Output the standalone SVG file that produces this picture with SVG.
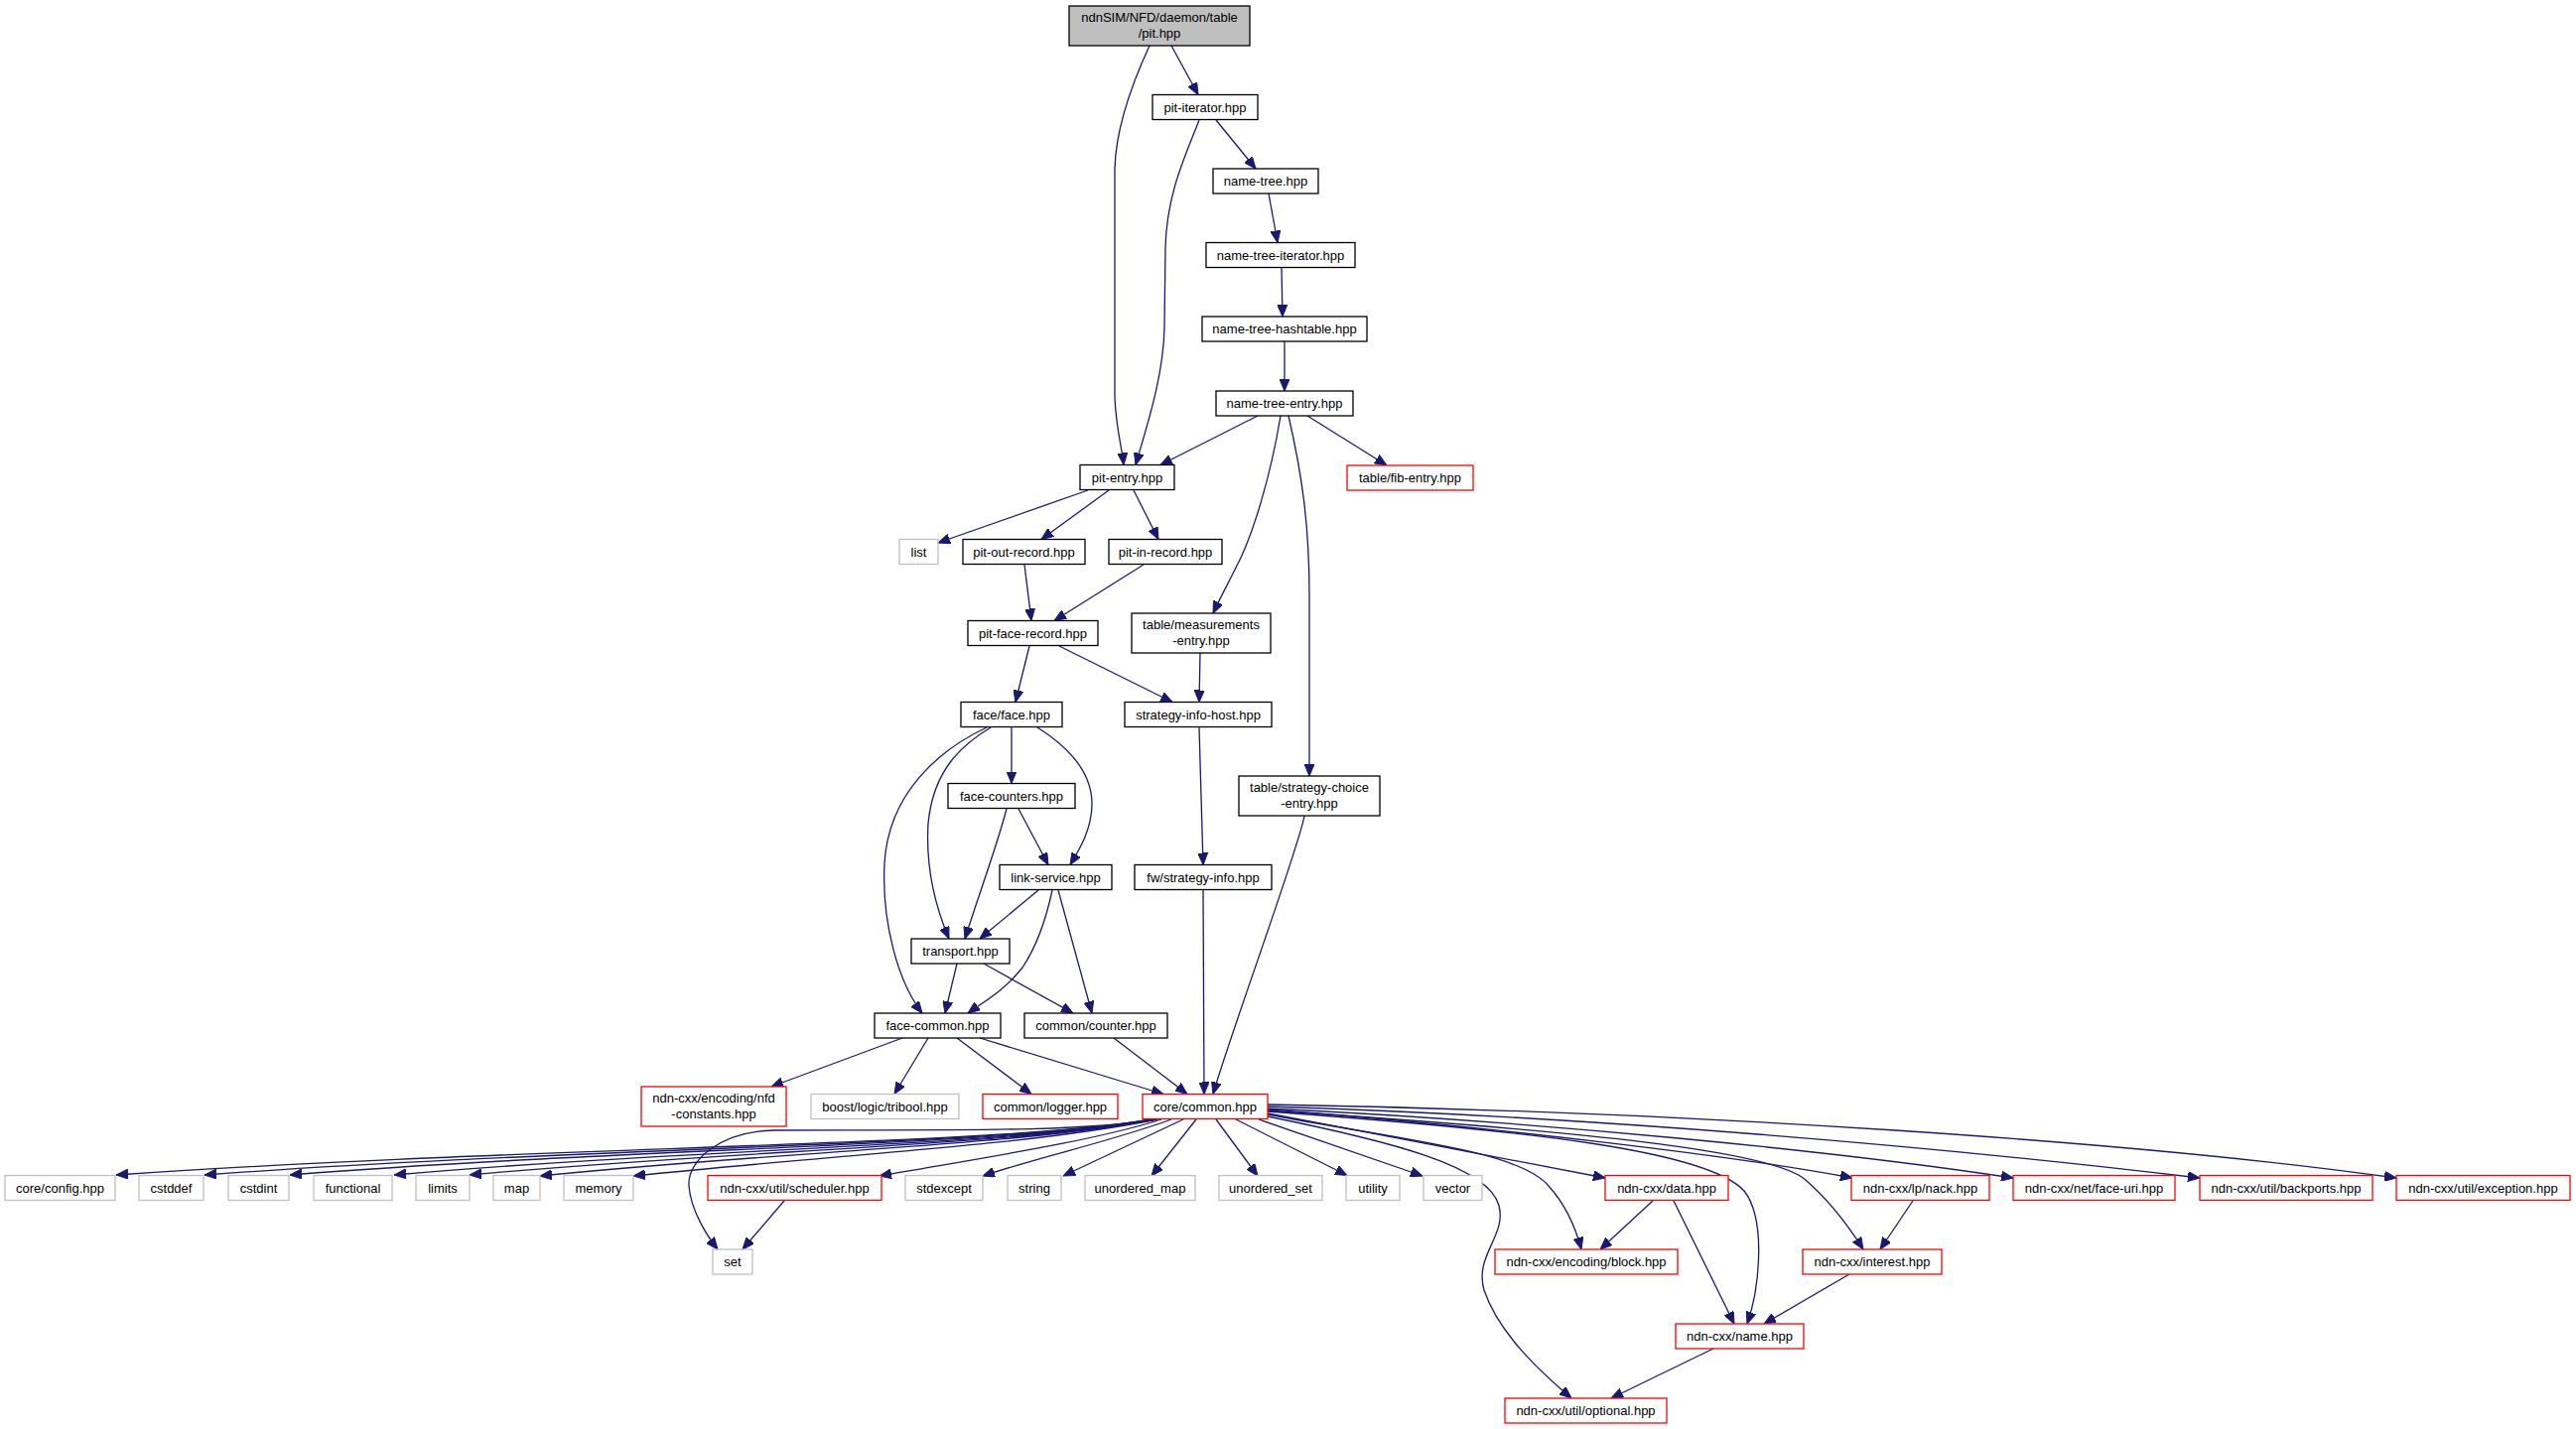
<svg xmlns="http://www.w3.org/2000/svg" width="2595" height="1440" viewBox="0 0 2595 1440">
<defs>
<marker id="a" markerUnits="userSpaceOnUse" viewBox="0 0 12 10" markerWidth="12" markerHeight="10" refX="12" refY="5" orient="auto"><path d="M0,0 L12,5 L0,10 z" fill="#191970" stroke="#191970" stroke-width="1"/></marker>
<style>
.node rect{fill:#fff;stroke:#000;stroke-width:1.3}
.node.g rect{stroke:#bfbfbf}
.node.r rect{stroke:#ff0000}
.node.root rect{fill:#bfbfbf}
text{font-family:"Liberation Sans",Arial,sans-serif;font-size:13px;text-anchor:middle;fill:#000}
#edges path{fill:none;stroke:#191970;stroke-width:1.3;marker-end:url(#a)}
</style>
</defs>
<rect width="2595" height="1440" fill="#fff"/>
<g id="edges">
<path d="M1180,46 L1207,95.5"/>
<path d="M1158,46 C1140,85 1124,130 1123,170 L1123,400 C1124,430 1130,450 1132,468.5"/>
<path d="M1208,121 C1195,155 1175,195 1174,250 L1173,330 C1172,380 1155,430 1144,468.5"/>
<path d="M1225,121 L1265,170"/>
<path d="M1278,195 L1287,244.5"/>
<path d="M1291,270 L1292,319"/>
<path d="M1294,344 L1294,394"/>
<path d="M1267,419 L1169,468.5"/>
<path d="M1317,419 L1397,469"/>
<path d="M1290,419 C1280,480 1262,540 1245,572 C1236,590 1228,605 1222,618"/>
<path d="M1298,419 C1312,480 1319,530 1319,600 L1319,782"/>
<path d="M1096,494 L945,547"/>
<path d="M1117,494 L1049,543.5"/>
<path d="M1142,494 L1167,543.5"/>
<path d="M1032,569 L1039,625.5"/>
<path d="M1152,569 L1062,625.5"/>
<path d="M1037,651 L1023,707.5"/>
<path d="M1067,651 L1181,707.5"/>
<path d="M1209,658 L1208,707.5"/>
<path d="M1208,733 L1212,871.5"/>
<path d="M1019,733 L1019,789.5"/>
<path d="M1045,733 C1080,755 1100,780 1100,810 C1100,835 1088,855 1078,871.5"/>
<path d="M998,733 C970,750 940,775 935,830 C932,880 945,920 956,946"/>
<path d="M994,733 C945,756 895,800 891,870 C888,930 905,990 929,1021"/>
<path d="M1026,815 L1056,871.5"/>
<path d="M1014,815 C1005,850 990,890 972,946"/>
<path d="M1046,897 L987,946"/>
<path d="M1060,897 C1052,935 1040,960 1030,975 C1010,1000 990,1010 975,1021"/>
<path d="M1066,897 L1100,1021"/>
<path d="M964,971 L952,1021"/>
<path d="M991,971 L1081,1021"/>
<path d="M909,1046 L777,1095"/>
<path d="M935,1046 L901,1102.5"/>
<path d="M964,1046 L1039,1102.5"/>
<path d="M987,1046 L1172,1102.5"/>
<path d="M1122,1046 L1196,1102.5"/>
<path d="M1212,897 L1213,1102.5"/>
<path d="M1314,822 C1310,850 1240,1040 1222,1102.5"/>
<path d="M1160,1128 C1010,1155 534,1155 117,1184"/>
<path d="M1161,1128 C1012,1155 580,1156 206,1184"/>
<path d="M1162,1128 C1014,1155 630,1157 292,1184"/>
<path d="M1163,1128 C1016,1155 690,1158 397,1184"/>
<path d="M1164,1128 C1018,1155 740,1159 473,1184"/>
<path d="M1165,1128 C1020,1155 790,1160 544,1185"/>
<path d="M1166,1128 C1030,1155 860,1162 638,1185"/>
<path d="M1158,1128 C1100,1142 900,1138 780,1139 C725,1140 692,1170 694,1195 C696,1220 712,1245 723,1259"/>
<path d="M1170,1128 C1100,1150 1000,1165 886,1185"/>
<path d="M1180,1128 C1120,1150 1050,1165 990,1185"/>
<path d="M1192,1128 L1071,1185"/>
<path d="M1205,1128 L1160,1185"/>
<path d="M1225,1128 L1267,1185"/>
<path d="M1245,1128 L1357,1184.5"/>
<path d="M1268,1128 L1433,1185"/>
<path d="M1277,1122 C1400,1145 1530,1170 1617,1187"/>
<path d="M1277,1123 C1420,1150 1530,1160 1560,1195 C1578,1215 1588,1240 1593,1259"/>
<path d="M1277,1125 C1400,1150 1500,1175 1510,1215 C1518,1245 1485,1265 1495,1300 C1510,1345 1555,1385 1583,1409"/>
<path d="M1277,1120 C1550,1140 1720,1160 1757,1200 C1780,1230 1772,1300 1760,1334"/>
<path d="M1277,1119 C1600,1140 1790,1160 1820,1190 C1845,1212 1865,1240 1877,1259"/>
<path d="M1277,1118 C1500,1135 1750,1165 1866,1187"/>
<path d="M1277,1117 C1550,1130 1850,1160 2028,1187"/>
<path d="M1277,1115 C1600,1125 1950,1155 2216,1187"/>
<path d="M1277,1113 C1700,1120 2150,1150 2414,1187"/>
<path d="M790,1210 L748,1259"/>
<path d="M1665,1210 L1612,1259"/>
<path d="M1686,1210 L1747,1334"/>
<path d="M1927,1210 L1894,1259"/>
<path d="M1863,1284 L1777,1334"/>
<path d="M1726,1359 L1623,1409"/>
</g>
<g id="n_root" class="node root"><rect x="1077" y="6" width="182" height="40"/><text x="1168" y="21.5">ndnSIM/NFD/daemon/table</text><text x="1168" y="37.5">/pit.hpp</text></g>
<g id="n_pit_iterator" class="node"><rect x="1161" y="95.5" width="106" height="25"/><text x="1214" y="112.5">pit-iterator.hpp</text></g>
<g id="n_name_tree" class="node"><rect x="1222" y="170" width="106" height="25"/><text x="1275" y="187">name-tree.hpp</text></g>
<g id="n_name_tree_iterator" class="node"><rect x="1215" y="244.5" width="150" height="25"/><text x="1290" y="261.5">name-tree-iterator.hpp</text></g>
<g id="n_name_tree_hashtable" class="node"><rect x="1211" y="319" width="166" height="25"/><text x="1294" y="336">name-tree-hashtable.hpp</text></g>
<g id="n_name_tree_entry" class="node"><rect x="1225" y="394" width="138" height="25"/><text x="1294" y="411">name-tree-entry.hpp</text></g>
<g id="n_pit_entry" class="node"><rect x="1088" y="468.5" width="95" height="25"/><text x="1135.5" y="485.5">pit-entry.hpp</text></g>
<g id="n_fib_entry" class="node r"><rect x="1357" y="469" width="127" height="25"/><text x="1420.5" y="486">table/fib-entry.hpp</text></g>
<g id="n_list" class="node g"><rect x="906" y="543.5" width="39" height="25"/><text x="925.5" y="560.5">list</text></g>
<g id="n_pit_out_record" class="node"><rect x="970" y="543.5" width="123" height="25"/><text x="1031.5" y="560.5">pit-out-record.hpp</text></g>
<g id="n_pit_in_record" class="node"><rect x="1117" y="543.5" width="114" height="25"/><text x="1174" y="560.5">pit-in-record.hpp</text></g>
<g id="n_pit_face_record" class="node"><rect x="975" y="625.5" width="131" height="25"/><text x="1040.5" y="642.5">pit-face-record.hpp</text></g>
<g id="n_measurements_entry" class="node"><rect x="1140" y="618" width="140" height="40"/><text x="1210" y="633.5">table/measurements</text><text x="1210" y="649.5">-entry.hpp</text></g>
<g id="n_face" class="node"><rect x="968" y="707.5" width="102" height="25"/><text x="1019" y="724.5">face/face.hpp</text></g>
<g id="n_strategy_info_host" class="node"><rect x="1133" y="707.5" width="148" height="25"/><text x="1207" y="724.5">strategy-info-host.hpp</text></g>
<g id="n_face_counters" class="node"><rect x="955" y="789.5" width="128" height="25"/><text x="1019" y="806.5">face-counters.hpp</text></g>
<g id="n_strategy_choice_entry" class="node"><rect x="1248" y="782" width="142" height="40"/><text x="1319" y="797.5">table/strategy-choice</text><text x="1319" y="813.5">-entry.hpp</text></g>
<g id="n_link_service" class="node"><rect x="1007" y="871.5" width="113" height="25"/><text x="1063.5" y="888.5">link-service.hpp</text></g>
<g id="n_strategy_info" class="node"><rect x="1143" y="871.5" width="138" height="25"/><text x="1212" y="888.5">fw/strategy-info.hpp</text></g>
<g id="n_transport" class="node"><rect x="918" y="946" width="99" height="25"/><text x="967.5" y="963">transport.hpp</text></g>
<g id="n_face_common" class="node"><rect x="881" y="1021" width="127" height="25"/><text x="944.5" y="1038">face-common.hpp</text></g>
<g id="n_counter" class="node"><rect x="1032" y="1021" width="144" height="25"/><text x="1104" y="1038">common/counter.hpp</text></g>
<g id="n_nfd_constants" class="node r"><rect x="646" y="1095" width="146" height="40"/><text x="719" y="1110.5">ndn-cxx/encoding/nfd</text><text x="719" y="1126.5">-constants.hpp</text></g>
<g id="n_tribool" class="node g"><rect x="817" y="1102.5" width="149" height="25"/><text x="891.5" y="1119.5">boost/logic/tribool.hpp</text></g>
<g id="n_logger" class="node r"><rect x="990" y="1102.5" width="136" height="25"/><text x="1058" y="1119.5">common/logger.hpp</text></g>
<g id="n_core_common" class="node r"><rect x="1151" y="1102.5" width="126" height="25"/><text x="1214" y="1119.5">core/common.hpp</text></g>
<g id="n_core_config" class="node g"><rect x="5" y="1184.5" width="111" height="25"/><text x="60.5" y="1201.5">core/config.hpp</text></g>
<g id="n_cstddef" class="node g"><rect x="140" y="1184.5" width="65" height="25"/><text x="172.5" y="1201.5">cstddef</text></g>
<g id="n_cstdint" class="node g"><rect x="230" y="1184.5" width="61" height="25"/><text x="260.5" y="1201.5">cstdint</text></g>
<g id="n_functional" class="node g"><rect x="316" y="1184.5" width="79" height="25"/><text x="355.5" y="1201.5">functional</text></g>
<g id="n_limits" class="node g"><rect x="419" y="1184.5" width="54" height="25"/><text x="446" y="1201.5">limits</text></g>
<g id="n_map" class="node g"><rect x="497" y="1184.5" width="47" height="25"/><text x="520.5" y="1201.5">map</text></g>
<g id="n_memory" class="node g"><rect x="568" y="1184.5" width="70" height="25"/><text x="603" y="1201.5">memory</text></g>
<g id="n_scheduler" class="node r"><rect x="713" y="1184.5" width="175" height="25"/><text x="800.5" y="1201.5">ndn-cxx/util/scheduler.hpp</text></g>
<g id="n_stdexcept" class="node g"><rect x="912" y="1184.5" width="78" height="25"/><text x="951" y="1201.5">stdexcept</text></g>
<g id="n_string" class="node g"><rect x="1015" y="1184.5" width="54" height="25"/><text x="1042" y="1201.5">string</text></g>
<g id="n_unordered_map" class="node g"><rect x="1093" y="1184.5" width="111" height="25"/><text x="1148.5" y="1201.5">unordered_map</text></g>
<g id="n_unordered_set" class="node g"><rect x="1228" y="1184.5" width="104" height="25"/><text x="1280" y="1201.5">unordered_set</text></g>
<g id="n_utility" class="node g"><rect x="1356" y="1184.5" width="54" height="25"/><text x="1383" y="1201.5">utility</text></g>
<g id="n_vector" class="node g"><rect x="1434" y="1184.5" width="59" height="25"/><text x="1463.5" y="1201.5">vector</text></g>
<g id="n_data" class="node r"><rect x="1617" y="1184.5" width="124" height="25"/><text x="1679" y="1201.5">ndn-cxx/data.hpp</text></g>
<g id="n_nack" class="node r"><rect x="1865" y="1184.5" width="139" height="25"/><text x="1934.5" y="1201.5">ndn-cxx/lp/nack.hpp</text></g>
<g id="n_face_uri" class="node r"><rect x="2028" y="1184.5" width="163" height="25"/><text x="2109.5" y="1201.5">ndn-cxx/net/face-uri.hpp</text></g>
<g id="n_backports" class="node r"><rect x="2216" y="1184.5" width="174" height="25"/><text x="2303" y="1201.5">ndn-cxx/util/backports.hpp</text></g>
<g id="n_exception" class="node r"><rect x="2414" y="1184.5" width="175" height="25"/><text x="2501.5" y="1201.5">ndn-cxx/util/exception.hpp</text></g>
<g id="n_set" class="node g"><rect x="718" y="1259" width="40" height="25"/><text x="738" y="1276">set</text></g>
<g id="n_block" class="node r"><rect x="1506" y="1259" width="184" height="25"/><text x="1598" y="1276">ndn-cxx/encoding/block.hpp</text></g>
<g id="n_interest" class="node r"><rect x="1816" y="1259" width="140" height="25"/><text x="1886" y="1276">ndn-cxx/interest.hpp</text></g>
<g id="n_name" class="node r"><rect x="1688" y="1334" width="129" height="25"/><text x="1752.5" y="1351">ndn-cxx/name.hpp</text></g>
<g id="n_optional" class="node r"><rect x="1516" y="1409" width="163" height="25"/><text x="1597.5" y="1426">ndn-cxx/util/optional.hpp</text></g>
</svg>
